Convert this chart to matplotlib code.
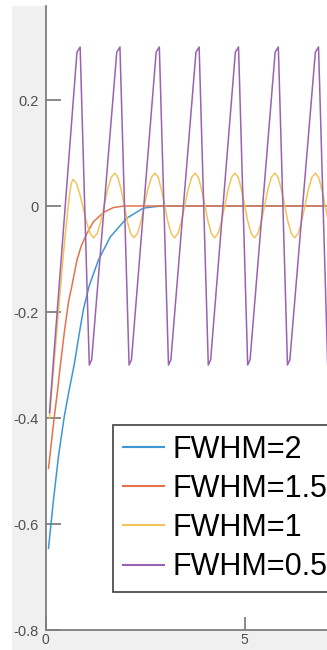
import matplotlib.pyplot as plt
from matplotlib.patches import Rectangle

plt.rcParams['font.family'] = ['Liberation Sans', 'DejaVu Sans']

# series
blue_x = [0.075, 0.2, 0.33, 0.47, 0.6, 0.72, 0.85, 0.95, 1.1, 1.33, 1.63, 2.04, 2.46, 2.88, 3.5, 10.0]
blue_y = [-0.646, -0.555, -0.47, -0.398, -0.345, -0.30, -0.24, -0.196, -0.15, -0.102, -0.058, -0.023, -0.004, 0.0, 0.0, 0.0]

red_x = [0.075, 0.15, 0.22, 0.3, 0.37, 0.47, 0.58, 0.66, 0.79, 0.9, 1.04, 1.2, 1.46, 1.7, 1.96, 10.0]
red_y = [-0.495, -0.445, -0.398, -0.35, -0.303, -0.24, -0.18, -0.152, -0.102, -0.075, -0.052, -0.03, -0.012, -0.003, 0.0, 0.0]

yellow_x = [0.10, 0.20, 0.33, 0.45, 0.55, 0.60, 0.645, 0.69,
            0.777, 0.863, 0.95, 1.037, 1.123, 1.21,
            1.298, 1.387, 1.475, 1.563, 1.652, 1.74,
            1.82, 1.90, 1.98, 2.06, 2.14, 2.22,
            2.308, 2.397, 2.485, 2.573, 2.662, 2.75,
            2.832, 2.913, 2.995, 3.077, 3.158, 3.24,
            3.327, 3.413, 3.50, 3.587, 3.673, 3.76,
            3.842, 3.923, 4.005, 4.087, 4.168, 4.25,
            4.335, 4.42, 4.505, 4.59, 4.675, 4.76,
            4.842, 4.923, 5.005, 5.087, 5.168, 5.25,
            5.335, 5.42, 5.505, 5.59, 5.675, 5.76,
            5.843, 5.927, 6.01, 6.093, 6.177, 6.26,
            6.347, 6.433, 6.52, 6.607, 6.693, 6.78,
            6.862, 6.943, 7.025, 7.107, 7.188, 7.27]
yellow_y = [-0.40, -0.31, -0.196, -0.09, -0.015, 0.02, 0.042, 0.05,
            0.043, 0.022, -0.005, -0.032, -0.052, -0.06,
            -0.052, -0.03, 0.001, 0.032, 0.054, 0.062,
            0.054, 0.031, 0.001, -0.03, -0.052, -0.06,
            -0.052, -0.03, 0.001, 0.032, 0.054, 0.062,
            0.054, 0.031, 0.001, -0.03, -0.052, -0.06,
            -0.052, -0.03, 0.001, 0.032, 0.054, 0.062,
            0.054, 0.031, 0.001, -0.03, -0.052, -0.06,
            -0.052, -0.03, 0.001, 0.032, 0.054, 0.062,
            0.054, 0.031, 0.001, -0.03, -0.052, -0.06,
            -0.052, -0.03, 0.001, 0.032, 0.054, 0.062,
            0.054, 0.031, 0.001, -0.03, -0.052, -0.06,
            -0.052, -0.03, 0.001, 0.032, 0.054, 0.062,
            0.054, 0.031, 0.001, -0.03, -0.052, -0.06]

purple_x = [0.10, 0.79, 0.87, 1.10, 1.16, 1.79, 1.87, 2.10, 2.16, 2.78, 2.86, 3.09, 3.15, 3.78, 3.86,
            4.09, 4.15, 4.77, 4.85, 5.08, 5.14, 5.77, 5.85, 6.08, 6.14, 6.78, 6.86, 7.09, 7.15]
purple_y = [-0.39, 0.29, 0.30, -0.30, -0.29, 0.29, 0.30, -0.30, -0.29, 0.29, 0.30, -0.30, -0.29, 0.29, 0.30,
            -0.30, -0.29, 0.29, 0.30, -0.30, -0.29, 0.29, 0.30, -0.30, -0.29, 0.29, 0.30, -0.30, -0.29]

labels = ["FWHM=2", "FWHM=1.5", "FWHM=1", "FWHM=0.5"]
colors = ['#3d97d3', '#e2734a', '#f0c45a', '#9a62b0']

yticks = [-0.8, -0.6, -0.4, -0.2, 0, 0.2]
ytick_labels = ['-0.8', '-0.6', '-0.4', '-0.2', '0', '0.2']
xticks = [0, 5]
xtick_labels = ['0', '5']

W, H = 327, 650
fig = plt.figure(figsize=(W / 100, H / 100), dpi=100)
fig.patch.set_facecolor('white')
# grey figure background of the cropped screenshot
fig.patches.append(Rectangle((12 / W, 0), 1, (H - 6) / H, transform=fig.transFigure,
                             facecolor='#f0f0f0', edgecolor='none', zorder=-5))

# axes runs past the right edge (picture is cropped)
ax = fig.add_axes([45.5 / W, (H - 630) / H, 10 * 39.8 / W, (630 - 6) / H])
ax.set_zorder(2)
ax.set_facecolor('white')

ax.plot(blue_x, blue_y, color=colors[0], lw=1.1, label=labels[0])
ax.plot(red_x, red_y, color=colors[1], lw=1.1, label=labels[1])
ax.plot(yellow_x, yellow_y, color=colors[2], lw=1.1, label=labels[2])
ax.plot(purple_x, purple_y, color=colors[3], lw=1.1, label=labels[3])

ax.set_xlim(0, 10)
ax.set_ylim(-0.8, (206 - 6) / 530)
ax.set_xticks(xticks)
ax.set_xticklabels(xtick_labels)
ax.set_yticks(yticks)
ax.set_yticklabels(ytick_labels)

for s in ['top', 'right']:
    ax.spines[s].set_visible(False)
for s in ['left', 'bottom']:
    ax.spines[s].set_color('#7f7f7f')
    ax.spines[s].set_linewidth(1.3)

ax.tick_params(axis='y', direction='in', length=10.8, width=1.3, color='#7f7f7f',
               labelsize=10.5, labelcolor='#505050', pad=5)
ax.tick_params(axis='x', direction='in', length=9.4, width=1.3, color='#7f7f7f',
               labelsize=10, labelcolor='#505050', pad=2.5)

leg = ax.legend(loc='upper left', bbox_to_anchor=(113 / W, 1 - 425 / H),
                bbox_transform=fig.transFigure, borderaxespad=0, fontsize=22,
                handlelength=1.35, handletextpad=0.27, borderpad=0.32, labelspacing=0.3,
                fancybox=False, framealpha=1, edgecolor='#404040')
leg.get_frame().set_linewidth(1.2)
for line in leg.get_lines():
    line.set_linewidth(1.5)

plt.savefig('out.png', dpi=100)
